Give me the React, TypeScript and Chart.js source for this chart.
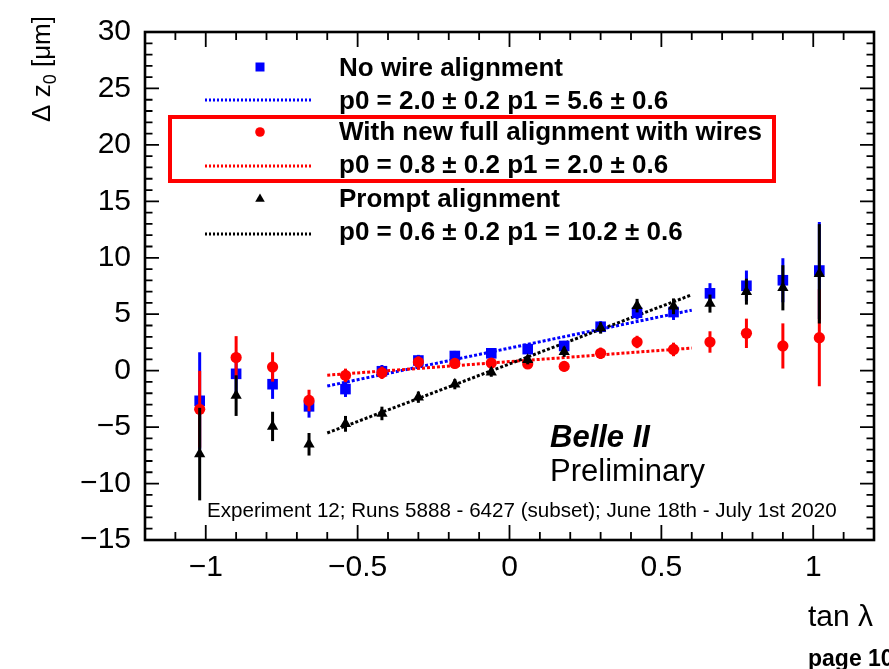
import React, { useEffect, useRef } from 'react';
import { Chart, registerables } from 'chart.js';

Chart.register(...registerables);

// ---- data ----
const tanLambda = [-1.02, -0.9, -0.78, -0.66, -0.54, -0.42, -0.3, -0.18, -0.06, 0.06, 0.18, 0.3, 0.42, 0.54, 0.66, 0.78, 0.9, 1.02];
const noWireValues = [-2.67, -0.28, -1.2, -3.16, -1.63, -0.05, 0.9, 1.3, 1.54, 1.91, 2.19, 3.89, 5.13, 5.19, 6.85, 7.52, 8.01, 8.87];
const noWireErrors = [4.3, 1.9, 1.3, 1.0, 0.7, 0.55, 0.5, 0.45, 0.4, 0.4, 0.45, 0.5, 0.6, 0.7, 0.9, 1.35, 1.95, 4.3];
const fullAlignValues = [-3.42, 1.16, 0.33, -2.64, -0.42, -0.19, 0.76, 0.64, 0.67, 0.59, 0.38, 1.54, 2.54, 1.88, 2.54, 3.31, 2.19, 2.92];
const fullAlignErrors = [3.4, 1.9, 1.3, 0.95, 0.6, 0.55, 0.5, 0.45, 0.4, 0.4, 0.45, 0.5, 0.55, 0.6, 0.95, 1.3, 2.0, 4.3];
const promptValues = [-7.39, -2.21, -4.94, -6.52, -4.71, -3.79, -2.35, -1.2, -0.14, 0.96, 1.67, 3.78, 5.76, 5.7, 5.94, 7.0, 7.34, 8.58];
const promptErrors = [4.1, 1.8, 1.3, 1.0, 0.7, 0.6, 0.5, 0.45, 0.4, 0.4, 0.45, 0.5, 0.6, 0.7, 0.8, 1.15, 2.0, 4.4];

const fitRange = [-0.6, 0.6];
const noWireFit = [-1.36, 5.36];
const fullAlignFit = [-0.4, 2.0];
const promptFit = [-5.52, 6.72];

const xTicks = [-1, -0.5, 0, 0.5, 1];
const yTicks = [-15, -10, -5, 0, 5, 10, 15, 20, 25, 30];

const seriesNames = ['No wire alignment', 'With new full alignment with wires', 'Prompt alignment'];
const fitLabels = [
  'p0 = 2.0 \u00b1 0.2 p1 = 5.6 \u00b1 0.6',
  'p0 = 0.8 \u00b1 0.2 p1 = 2.0 \u00b1 0.6',
  'p0 = 0.6 \u00b1 0.2 p1 = 10.2 \u00b1 0.6',
];
const xTitle = 'tan \u03bb';
const yTitleParts = ['\u0394 z', '0', ' [\u03bcm]'];
const brandTitle = 'Belle II';
const brandSubtitle = 'Preliminary';
const runInfo = 'Experiment 12; Runs 5888 - 6427 (subset); June 18th - July 1st 2020';
const pageLabel = 'page 10';

const BLUE = '#0000ff';
const RED = '#ff0000';
const BLACK = '#000000';
const FONT = '"Liberation Sans", Arial, Helvetica, sans-serif';

const fmt = (v: number) => (v < 0 ? '\u2212' + String(Math.abs(v)) : String(v));

const errorBarPlugin = {
  id: 'errorBars',
  beforeDatasetDraw(chart: any, args: any) {
    const ds = chart.data.datasets[args.index];
    if (!ds.errors) return;
    const { ctx, scales } = chart;
    ctx.save();
    ctx.strokeStyle = ds.backgroundColor;
    ctx.lineWidth = 3;
    ds.data.forEach((p: any, i: number) => {
      const e = ds.errors[i];
      const px = scales.x.getPixelForValue(p.x);
      const y1 = scales.y.getPixelForValue(p.y - e);
      const y2 = scales.y.getPixelForValue(p.y + e);
      ctx.beginPath();
      ctx.moveTo(px, y1);
      ctx.lineTo(px, y2);
      ctx.stroke();
    });
    ctx.restore();
  },
};

function drawMarker(ctx: CanvasRenderingContext2D, kind: string, x: number, y: number, s: number, color: string) {
  ctx.fillStyle = color;
  ctx.beginPath();
  if (kind === 'rect') {
    ctx.rect(x - s, y - s, 2 * s, 2 * s);
  } else if (kind === 'circle') {
    ctx.arc(x, y, s, 0, Math.PI * 2);
  } else {
    ctx.moveTo(x, y - s);
    ctx.lineTo(x + s * 0.87, y + s * 0.5);
    ctx.lineTo(x - s * 0.87, y + s * 0.5);
    ctx.closePath();
  }
  ctx.fill();
}

const framePlugin = {
  id: 'rootFrame',
  afterDraw(chart: any) {
    const { ctx, chartArea: a, scales } = chart;
    const { x, y } = scales;
    ctx.save();
    ctx.strokeStyle = BLACK;
    ctx.lineWidth = 1.8;
    ctx.beginPath();
    for (let k = -12; k <= 12; k++) {
      const px = x.getPixelForValue(k / 10);
      const len = k % 5 === 0 ? 15 : 8;
      ctx.moveTo(px, a.bottom);
      ctx.lineTo(px, a.bottom - len);
      ctx.moveTo(px, a.top);
      ctx.lineTo(px, a.top + len);
    }
    for (let k = -15; k <= 30; k++) {
      const py = y.getPixelForValue(k);
      const len = k % 5 === 0 ? 14 : 7.5;
      ctx.moveTo(a.left, py);
      ctx.lineTo(a.left + len, py);
      ctx.moveTo(a.right, py);
      ctx.lineTo(a.right - len, py);
    }
    ctx.stroke();
    ctx.lineWidth = 2.6;
    ctx.strokeRect(a.left, a.top, a.right - a.left, a.bottom - a.top);

    // legend
    const colors = [BLUE, RED, BLACK];
    const kinds = ['rect', 'circle', 'triangle'];
    const markerY = [67, 132, 199];
    const markerS = [4.5, 4.8, 5.5];
    const nameBase = [76, 140, 207];
    const fitY = [100, 166, 234];
    const fitBase = [109, 173, 240];
    ctx.textAlign = 'left';
    ctx.textBaseline = 'alphabetic';
    ctx.font = `bold 26px ${FONT}`;
    for (let i = 0; i < 3; i++) {
      drawMarker(ctx, kinds[i], 260, markerY[i], markerS[i], colors[i]);
      ctx.save();
      ctx.strokeStyle = colors[i];
      ctx.lineWidth = 3;
      ctx.setLineDash([2, 2]);
      ctx.beginPath();
      ctx.moveTo(205, fitY[i]);
      ctx.lineTo(313, fitY[i]);
      ctx.stroke();
      ctx.restore();
      ctx.fillStyle = BLACK;
      ctx.fillText(seriesNames[i], 339, nameBase[i]);
      ctx.fillText(fitLabels[i], 339, fitBase[i]);
    }
    ctx.strokeStyle = RED;
    ctx.lineWidth = 4;
    ctx.strokeRect(170, 117, 604, 64);

    // Belle II label
    ctx.fillStyle = BLACK;
    ctx.font = `italic bold 31px ${FONT}`;
    ctx.fillText(brandTitle, 550, 447);
    ctx.font = `31px ${FONT}`;
    ctx.fillText(brandSubtitle, 550, 481);
    ctx.font = `20.6px ${FONT}`;
    ctx.fillText(runInfo, 207, 517);

    // axis titles
    ctx.font = `30px ${FONT}`;
    ctx.textAlign = 'right';
    ctx.fillText(xTitle, 873, 626);

    ctx.save();
    ctx.translate(50, 16);
    ctx.rotate(-Math.PI / 2);
    ctx.textAlign = 'left';
    const mainFont = `26px ${FONT}`;
    const subFont = `18px ${FONT}`;
    ctx.font = mainFont;
    const w0 = ctx.measureText(yTitleParts[0]).width;
    const w2 = ctx.measureText(yTitleParts[2]).width;
    ctx.font = subFont;
    const w1 = ctx.measureText(yTitleParts[1]).width;
    let cx = -(w0 + w1 + w2);
    ctx.font = mainFont;
    ctx.fillText(yTitleParts[0], cx, 0);
    cx += w0;
    ctx.font = subFont;
    ctx.fillText(yTitleParts[1], cx, 6);
    cx += w1;
    ctx.font = mainFont;
    ctx.fillText(yTitleParts[2], cx, 0);
    ctx.restore();

    ctx.font = `bold 23px ${FONT}`;
    ctx.textAlign = 'left';
    ctx.fillText(pageLabel, 808, 666);
    ctx.restore();
  },
};

export default function App() {
  const ref = useRef<HTMLCanvasElement | null>(null);
  useEffect(() => {
    if (!ref.current) return;
    const points = (vals: number[]) => tanLambda.map((x, i) => ({ x, y: vals[i] }));
    const fit = (vals: number[]) => fitRange.map((x, i) => ({ x, y: vals[i] }));
    const chart = new Chart(ref.current, {
      type: 'scatter',
      data: {
        datasets: [
          { label: seriesNames[0], data: points(noWireValues), errors: noWireErrors, pointStyle: 'rect', pointRadius: 7.5, backgroundColor: BLUE, borderWidth: 0, order: 3 } as any,
          { label: seriesNames[1], data: points(fullAlignValues), errors: fullAlignErrors, pointStyle: 'circle', pointRadius: 5.6, backgroundColor: RED, borderWidth: 0, order: 2 } as any,
          { label: seriesNames[2], data: points(promptValues), errors: promptErrors, pointStyle: 'triangle', pointRadius: 6.5, backgroundColor: BLACK, borderWidth: 0, order: 1 } as any,
          { label: fitLabels[0], data: fit(noWireFit), showLine: true, borderColor: BLUE, borderWidth: 3, borderDash: [3, 2], pointRadius: 0, order: 6 } as any,
          { label: fitLabels[1], data: fit(fullAlignFit), showLine: true, borderColor: RED, borderWidth: 3, borderDash: [3, 2], pointRadius: 0, order: 5 } as any,
          { label: fitLabels[2], data: fit(promptFit), showLine: true, borderColor: BLACK, borderWidth: 3, borderDash: [3, 2], pointRadius: 0, order: 4 } as any,
        ],
      },
      options: {
        responsive: false,
        animation: false,
        events: [],
        layout: { padding: { left: 8, top: 18, right: 15, bottom: 0 } },
        plugins: { legend: { display: false }, tooltip: { enabled: false }, title: { display: false } },
        scales: {
          x: {
            type: 'linear',
            min: -1.2,
            max: 1.2,
            afterBuildTicks: (s: any) => { s.ticks = xTicks.map((v) => ({ value: v })); },
            afterFit: (s: any) => { s.height = 129; },
            ticks: { callback: (v: any) => fmt(Number(v)), color: BLACK, font: { family: FONT, size: 30 }, padding: 10, maxRotation: 0, autoSkip: false },
            grid: { display: false, drawTicks: false },
            border: { display: false },
          },
          y: {
            type: 'linear',
            min: -15,
            max: 30,
            afterBuildTicks: (s: any) => { s.ticks = yTicks.map((v) => ({ value: v })); },
            afterFit: (s: any) => { s.width = 137; },
            ticks: { callback: (v: any) => fmt(Number(v)), color: BLACK, font: { family: FONT, size: 30 }, padding: 14, autoSkip: false },
            grid: { display: false, drawTicks: false },
            border: { display: false },
          },
        },
      } as any,
      plugins: [errorBarPlugin, framePlugin],
    });
    return () => chart.destroy();
  }, []);
  return (
    <div style={{ position: 'fixed', left: 0, top: 0, width: 889, height: 669, background: '#fff' }}>
      <canvas ref={ref} width={889} height={669} style={{ display: 'block', width: 889, height: 669 }} />
    </div>
  );
}
